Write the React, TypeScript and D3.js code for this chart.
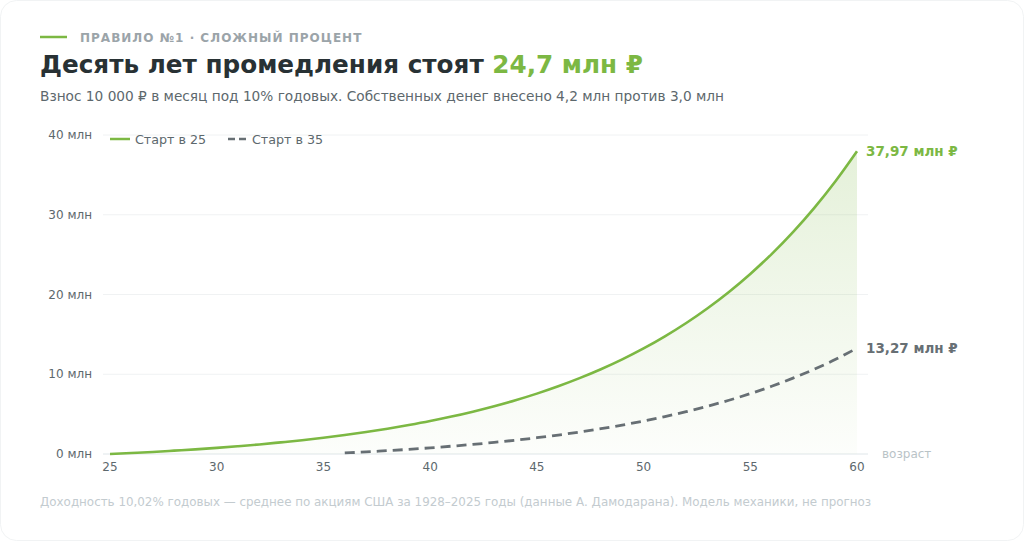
import React from 'react';
import * as d3 from 'd3';

// ages and savings (млн ₽)
const ages25 = [25, 26, 27, 28, 29, 30, 31, 32, 33, 34, 35, 36, 37, 38, 39, 40, 41, 42, 43, 44, 45, 46, 47, 48, 49, 50, 51, 52, 53, 54, 55, 56, 57, 58, 59, 60];
const start25 = [0, 0.13, 0.26, 0.42, 0.58, 0.77, 0.98, 1.2, 1.46, 1.73, 2.04, 2.38, 2.75, 3.17, 3.63, 4.13, 4.69, 5.31, 5.99, 6.74, 7.57, 8.49, 9.51, 10.63, 11.87, 13.24, 14.76, 16.43, 18.28, 20.32, 22.58, 25.07, 27.83, 30.87, 34.24, 37.97];
const ages35 = [36, 37, 38, 39, 40, 41, 42, 43, 44, 45, 46, 47, 48, 49, 50, 51, 52, 53, 54, 55, 56, 57, 58, 59, 60];
const start35 = [0.13, 0.26, 0.42, 0.58, 0.77, 0.98, 1.2, 1.46, 1.73, 2.04, 2.38, 2.75, 3.17, 3.63, 4.13, 4.69, 5.31, 5.99, 6.74, 7.57, 8.49, 9.51, 10.63, 11.87, 13.27];

const yTicks = [0, 10, 20, 30, 40];
const xTicks = [25, 30, 35, 40, 45, 50, 55, 60];
const legendLabels = ['Старт в 25', 'Старт в 35'];
const endLabels = ['37,97 млн ₽', '13,27 млн ₽'];

const GREEN = '#7cb843';
const GREY = '#676f74';
const FONT = '"DejaVu Sans", sans-serif';

const App = () => {
    const W = 1024, H = 541;
    const x = d3.scaleLinear().domain([25, 60]).range([110, 857]);
    const y = d3.scaleLinear().domain([0, 40]).range([454, 135]);

    const green = ages25.map((a, i) => [a, start25[i]] as [number, number]);
    const grey = ages35.map((a, i) => [a, start35[i]] as [number, number]);

    const line = d3.line<[number, number]>()
        .x(d => x(d[0]))
        .y(d => y(d[1]))
        .curve(d3.curveMonotoneX);
    const area = d3.area<[number, number]>()
        .x(d => x(d[0]))
        .y0(y(0))
        .y1(d => y(d[1]))
        .curve(d3.curveMonotoneX);

    const lastG = green[green.length - 1];
    const lastD = grey[grey.length - 1];

    return (
        <div style={{position: 'fixed', left: 0, top: 0, width: W, height: H, background: '#fff'}}>
            <svg width={W} height={H} style={{display: 'block', fontFamily: FONT}}>
                <defs>
                    <linearGradient id="fillG" x1="0" y1="0" x2="0" y2="1">
                        <stop offset="0%" stopColor={GREEN} stopOpacity={0.2} />
                        <stop offset="100%" stopColor={GREEN} stopOpacity={0.02} />
                    </linearGradient>
                </defs>
                <rect x={0.5} y={0.5} width={W - 1} height={H - 1} rx={16} fill="#fff" stroke="#f1f3f4" />

                {/* header */}
                <line x1={40} x2={67} y1={37} y2={37} stroke={GREEN} strokeWidth={2.5} />
                <text x={80} y={41.5} fontSize={12} fontWeight="bold" fill="#9ba4a9" letterSpacing={1.0}>
                    ПРАВИЛО №1 · СЛОЖНЫЙ ПРОЦЕНТ
                </text>
                <text x={40} y={73} fontSize={24.7} fontWeight="bold" fill="#283134">
                    Десять лет промедления стоят <tspan fill={GREEN}>24,7 млн ₽</tspan>
                </text>
                <text x={40} y={101} fontSize={13.7} fill="#5d686d">
                    Взнос 10 000 ₽ в месяц под 10% годовых. Собственных денег внесено 4,2 млн против 3,0 млн
                </text>

                {/* grid */}
                {yTicks.map(t => (
                    <g key={t}>
                        <line x1={103} x2={868} y1={y(t)} y2={y(t)}
                              stroke={t === 0 ? '#dfe6e9' : '#f0f2f3'} strokeWidth={1} />
                        <text x={92} y={y(t) + 4} fontSize={12} fill="#5d686d" textAnchor="end">{t} млн</text>
                    </g>
                ))}
                {xTicks.map(t => (
                    <text key={t} x={x(t)} y={471} fontSize={12} fill="#5d686d" textAnchor="middle">{t}</text>
                ))}
                <text x={882} y={458} fontSize={12} fill="#b9c3c7">возраст</text>

                {/* series */}
                <path d={area(green) || ''} fill="url(#fillG)" />
                <path d={line(grey) || ''} fill="none" stroke={GREY} strokeWidth={2.8} strokeDasharray="10,6" />
                <path d={line(green) || ''} fill="none" stroke={GREEN} strokeWidth={2.6} />

                <text x={x(lastG[0]) + 9} y={y(lastG[1]) + 4.5} fontSize={13.5} fontWeight="bold" fill={GREEN}>{endLabels[0]}</text>
                <text x={x(lastD[0]) + 9} y={y(lastD[1]) + 4.5} fontSize={13.5} fontWeight="bold" fill={GREY}>{endLabels[1]}</text>

                {/* legend */}
                <line x1={110} x2={130} y1={139} y2={139} stroke={GREEN} strokeWidth={2.5} />
                <text x={135} y={143.5} fontSize={12.7} fill="#5d686d">{legendLabels[0]}</text>
                <line x1={228} x2={246} y1={139} y2={139} stroke={GREY} strokeWidth={2.5} strokeDasharray="7,4" />
                <text x={252} y={143.5} fontSize={12.7} fill="#5d686d">{legendLabels[1]}</text>

                {/* footnote */}
                <text x={40} y={506} fontSize={11.9} fill="#c3cbcf">
                    Доходность 10,02% годовых — среднее по акциям США за 1928–2025 годы (данные А. Дамодарана). Модель механики, не прогноз
                </text>
            </svg>
        </div>
    );
};

export default App;
